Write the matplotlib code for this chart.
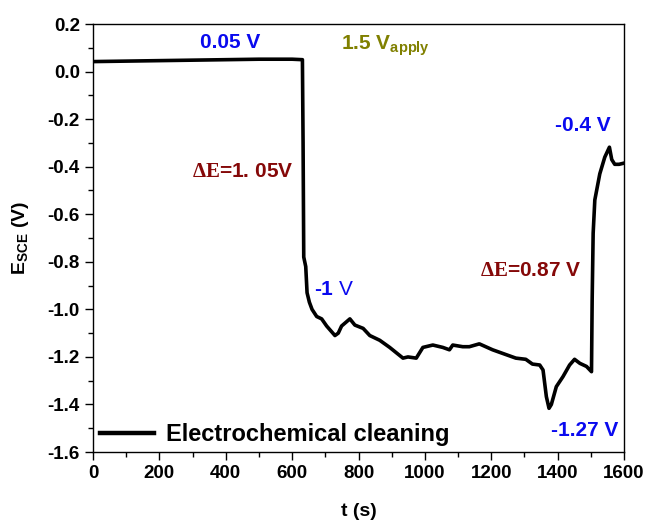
import matplotlib.pyplot as plt
import numpy as np

# potential vs time during electrochemical cleaning
t = [0, 100, 200, 300, 400, 500, 600, 631, 633, 635, 638, 641, 645, 652, 660, 674, 689, 694,
     704, 729, 739, 749, 774, 789, 814, 834, 864, 894, 934, 949, 974, 994, 1024, 1054, 1074,
     1084, 1114, 1134, 1164, 1204, 1244, 1274, 1304, 1324, 1346, 1356, 1366, 1374, 1381,
     1396, 1416, 1436, 1451, 1467, 1487, 1502, 1504, 1507, 1512, 1527, 1542, 1556, 1563,
     1572, 1585, 1600]
E = [0.042, 0.044, 0.046, 0.048, 0.050, 0.052, 0.052, 0.050, -0.30, -0.78, -0.80, -0.82,
     -0.93, -0.97, -1.00, -1.03, -1.04, -1.05, -1.07, -1.11, -1.10, -1.07, -1.04, -1.066,
     -1.08, -1.11, -1.13, -1.16, -1.205, -1.20, -1.205, -1.16, -1.15, -1.16, -1.17, -1.15,
     -1.157, -1.157, -1.145, -1.17, -1.19, -1.205, -1.21, -1.23, -1.234, -1.255, -1.367,
     -1.416, -1.40, -1.325, -1.283, -1.234, -1.21, -1.227, -1.24, -1.262, -0.96, -0.68,
     -0.54, -0.43, -0.36, -0.318, -0.37, -0.39, -0.39, -0.385]

yticks = [-1.6, -1.4, -1.2, -1.0, -0.8, -0.6, -0.4, -0.2, 0.0, 0.2]
ylabels = ['-1.6', '-1.4', '-1.2', '-1.0', '-0.8', '-0.6', '-0.4', '-0.2', '0.0', '0.2']

plt.rcParams['font.family'] = 'Liberation Sans'
plt.rcParams['font.weight'] = 'bold'
plt.rcParams['mathtext.fontset'] = 'custom'
plt.rcParams['mathtext.rm'] = 'Liberation Sans:weight=normal'
plt.rcParams['mathtext.sf'] = 'Liberation Sans:bold'
plt.rcParams['mathtext.bf'] = 'Liberation Serif:bold'

fig = plt.figure(facecolor='white', figsize=(6.48, 5.22), dpi=100)
ax = fig.add_axes([0.1435, 0.134, 0.8195, 0.82])

ax.plot(t, E, color='k', lw=2.6, label='Electrochemical cleaning')

ax.set_xlim(0, 1600)
ax.set_ylim(-1.6, 0.2)
ax.set_xticks(np.arange(0, 1601, 200))
ax.set_xticks(np.arange(100, 1600, 200), minor=True)
ax.set_yticks(yticks)
ax.set_yticklabels(ylabels)
ax.set_yticks(np.arange(-1.5, 0.2, 0.2), minor=True)
ax.tick_params(which='major', direction='out', length=6, width=1, labelsize=13.5)
ax.tick_params(which='minor', direction='out', length=3.5, width=1)
for s in ax.spines.values():
    s.set_linewidth(1)

ax.set_xlabel('t (s)', fontsize=14, fontweight='bold', labelpad=15)
ax.set_ylabel(r'E$_{\mathsf{SCE}}$ (V)', fontsize=14, fontweight='bold', labelpad=12)

# annotations
blue = '#0a0aef'
dred = '#850808'
fs = 15
ax.text(413, 0.124, '0.05 V', color=blue, fontsize=fs, ha='center', va='center')
ax.text(880, 0.11, r'1.5 V$_{\mathsf{apply}}$', color='#808000', fontsize=fs, ha='center', va='center')
ax.text(452, -0.42, r'$\mathbf{\Delta E}$=1. 05V', color=dred, fontsize=fs, ha='center', va='center')
ax.text(726, -0.918, r'-1 $\mathrm{V}$', color=blue, fontsize=fs, ha='center', va='center')
ax.text(1319, -0.835, r'$\mathbf{\Delta E}$=0.87 V', color=dred, fontsize=fs, ha='center', va='center')
ax.text(1476, -0.225, '-0.4 V', color=blue, fontsize=fs, ha='center', va='center')
ax.text(1482, -1.51, '-1.27 V', color=blue, fontsize=fs, ha='center', va='center')

leg = ax.legend(loc='lower left', frameon=False, fontsize=17, handlelength=2.3,
                borderpad=0.1, borderaxespad=0.2, handletextpad=0.5,
                bbox_to_anchor=(0.0, -0.002))
for ln in leg.get_lines():
    ln.set_linewidth(3.2)

fig.savefig('out.png', dpi=100)
